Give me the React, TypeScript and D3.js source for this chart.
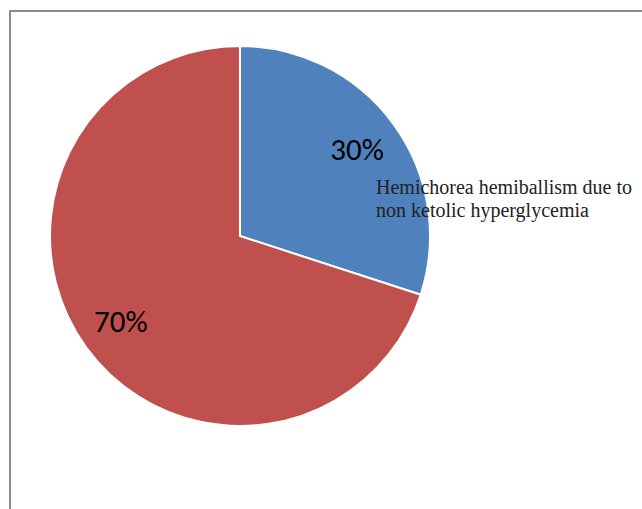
import React from "react";
import * as d3 from "d3";

const categories = ["Hemichorea hemiballism due to non ketolic hyperglycemia", "Other"];
const values = [30, 70];
const labels = ["30%", "70%"];
const legendLines = ["Hemichorea hemiballism due to", "non ketolic hyperglycemia"];
const colors = ["#4F81BD", "#C0504D"];

export default function App() {
  const cx = 240, cy = 236, R = 190;
  const pie = d3.pie<number>().sort(null).value((d) => d)(values);
  const arc = d3.arc<d3.PieArcDatum<number>>().innerRadius(0).outerRadius(R);
  const labelR = 146;
  const labelArc = d3.arc<d3.PieArcDatum<number>>().innerRadius(labelR).outerRadius(labelR);
  return (
    <svg width={642} height={509} style={{ position: "absolute", left: 0, top: 0 }}>
      <rect x={0} y={0} width={642} height={509} fill="#fff" />
      <line x1={10} y1={10} x2={10} y2={509} stroke="#8c8c8c" strokeWidth={2} />
      <line x1={9} y1={11} x2={642} y2={11} stroke="#8c8c8c" strokeWidth={2} />
      <g transform={`translate(${cx},${cy})`}>
        {pie.map((p, i) => (
          <path key={categories[i]} d={arc(p) || ""} fill={colors[i]} stroke="#fff" strokeWidth={2} />
        ))}
        {pie.map((p, i) => {
          const [x, y] = labelArc.centroid(p);
          return (
            <text key={"l" + i} x={x - 1} y={y + 10} textAnchor="middle"
              fontFamily="Carlito, 'Liberation Sans', Arial, sans-serif" fontSize={31} fill="#000">
              {labels[i]}
            </text>
          );
        })}
      </g>
      {legendLines.map((t, i) => (
        <text key={t} x={376} y={194 + i * 23} fontFamily="'Liberation Serif', 'Times New Roman', serif"
          fontSize={20} fill="#222">
          {t}
        </text>
      ))}
    </svg>
  );
}
